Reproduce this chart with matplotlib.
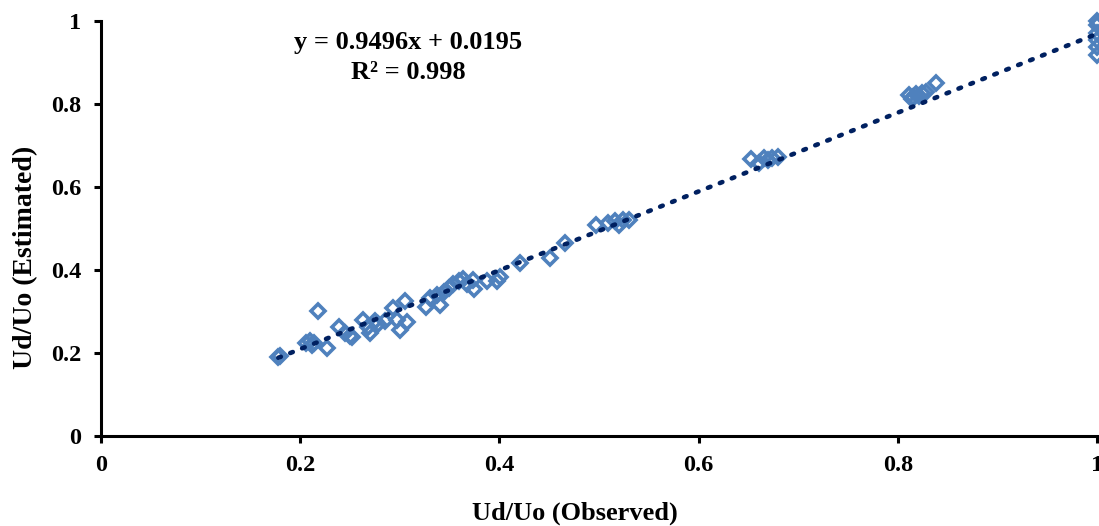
import matplotlib
matplotlib.use("Agg")
import matplotlib.pyplot as plt
import numpy as np

# Observed vs estimated Ud/Uo
observed = [0.178, 0.180, 0.206, 0.210, 0.212, 0.214, 0.218, 0.227, 0.239, 0.245,
            0.250, 0.252, 0.263, 0.268, 0.270, 0.275, 0.278, 0.285, 0.293, 0.297,
            0.300, 0.305, 0.307, 0.326, 0.330, 0.337, 0.340, 0.344, 0.349, 0.353,
            0.359, 0.363, 0.367, 0.373, 0.374, 0.388, 0.398, 0.401, 0.421, 0.451,
            0.466, 0.497, 0.509, 0.516, 0.520, 0.524, 0.530, 0.653, 0.661, 0.666,
            0.670, 0.674, 0.680, 0.811, 0.815, 0.818, 0.821, 0.824, 0.828, 0.838,
            0.814, 1.000, 1.000, 1.000, 1.000, 1.000, 1.000]
estimated = [0.190, 0.193, 0.224, 0.229, 0.220, 0.225, 0.301, 0.212, 0.263, 0.248,
             0.241, 0.238, 0.280, 0.262, 0.248, 0.277, 0.270, 0.276, 0.308, 0.280,
             0.255, 0.325, 0.275, 0.310, 0.333, 0.340, 0.316, 0.347, 0.356, 0.366,
             0.373, 0.378, 0.366, 0.376, 0.354, 0.373, 0.373, 0.383, 0.417, 0.429,
             0.465, 0.508, 0.513, 0.518, 0.508, 0.520, 0.520, 0.667, 0.658, 0.669,
             0.665, 0.669, 0.672, 0.822, 0.818, 0.824, 0.820, 0.826, 0.829, 0.851,
             0.812, 1.000, 0.990, 0.970, 0.954, 0.937, 0.918]

slope = 0.9496
intercept = 0.0195
r2 = 0.998

x_ticks = [0, 0.2, 0.4, 0.6, 0.8, 1]
x_tick_labels = ["0", "0.2", "0.4", "0.6", "0.8", "1"]
y_ticks = [0, 0.2, 0.4, 0.6, 0.8, 1]
y_tick_labels = ["0", "0.2", "0.4", "0.6", "0.8", "1"]

plt.rcParams['font.family'] = ['Liberation Serif', 'DejaVu Serif']
plt.rcParams['font.weight'] = 'bold'

fig = plt.figure(figsize=(10.99, 5.26), dpi=100)
ax = fig.add_axes([101/1099, 1 - 436/526, (1097-101)/1099, (436-21)/526])

ax.plot(observed, estimated, linestyle='none', marker='D', markersize=7.5,
        markerfacecolor='none', markeredgecolor='#4F81BD', markeredgewidth=2.6,
        clip_on=False, zorder=3)

xl = np.array([min(observed), max(observed)])
ax.plot(xl, slope * xl + intercept, linestyle=(0, (0.6, 2.2)), color='#002060',
        linewidth=3.3, dash_capstyle='round', zorder=4)

ax.set_xlim(0, 1)
ax.set_ylim(0, 1)
ax.set_xticks(x_ticks)
ax.set_xticklabels(x_tick_labels)
ax.set_yticks(y_ticks)
ax.set_yticklabels(y_tick_labels)

for s in ['top', 'right']:
    ax.spines[s].set_visible(False)
for s in ['left', 'bottom']:
    ax.spines[s].set_linewidth(2.2)
    ax.spines[s].set_color('black')

ax.tick_params(axis='both', direction='out', length=5, width=2.2,
               labelsize=17.5)
ax.tick_params(axis='x', pad=9)
ax.tick_params(axis='y', pad=9)
for lab in ax.get_xticklabels() + ax.get_yticklabels():
    lab.set_fontweight('bold')

ax.set_xlabel('Ud/Uo (Observed)', fontsize=19, fontweight='bold')
ax.set_ylabel('Ud/Uo (Estimated)', fontsize=20, fontweight='bold')
ax.xaxis.set_label_coords(0.476, -0.186)
ax.yaxis.set_label_coords(-0.0753, 0.43)
ax.xaxis.label.set_va('center')
ax.yaxis.label.set_va('center')

ax.text(0.3085, 0.912, f'y = {slope}x + {intercept}\nR² = {r2}', transform=ax.transData,
        ha='center', va='center', fontsize=19, fontweight='bold', linespacing=1.35)

fig.savefig('out.png', dpi=100)
